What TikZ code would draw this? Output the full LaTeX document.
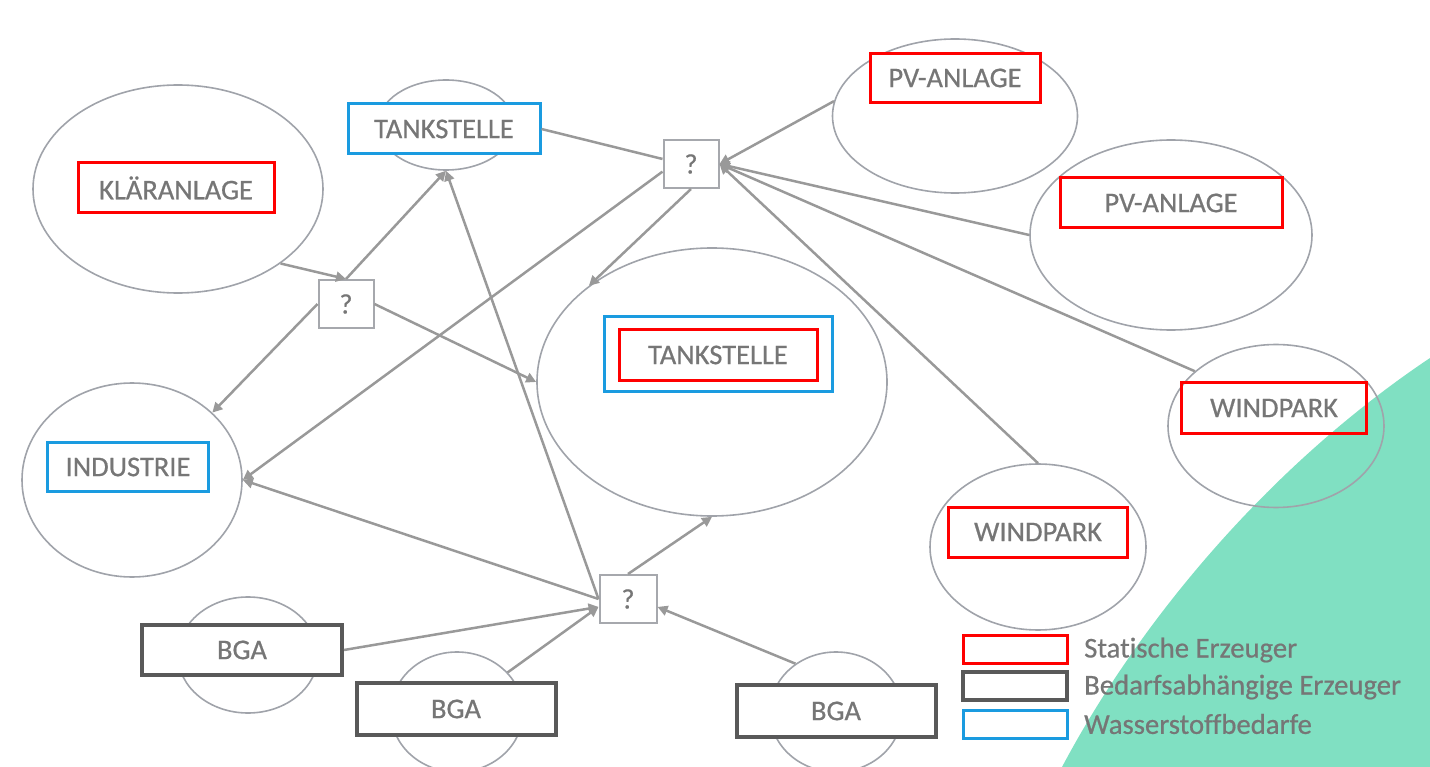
\documentclass[tikz,border=0pt]{standalone}
\usepackage{fontspec}
\setmainfont{Carlito}[Ligatures={NoCommon}, FakeBold=0.6]
\usetikzlibrary{shapes.geometric,arrows.meta}
\definecolor{txtc}{HTML}{767676}
\definecolor{ellc}{HTML}{A0A3AA}
\definecolor{conc}{HTML}{999999}
\definecolor{rdc}{HTML}{FF0000}
\definecolor{blc}{HTML}{1A9BE0}
\definecolor{dkc}{HTML}{595959}
\definecolor{qbc}{HTML}{A6A8AD}
\definecolor{grnc}{HTML}{80E0C2}
\begin{document}
\begin{tikzpicture}[x=1pt,y=-1pt,
 ellnode/.style={draw=ellc, line width=1.6pt, ellipse, inner sep=0pt},
 lbl/.style={rectangle, inner sep=0pt, font=\fontsize{28.5}{30}\selectfont, text=txtc, line width=3pt},
 redbox/.style={lbl, draw=rdc, fill=white},
 bluebox/.style={lbl, draw=blc, fill=white},
 darkbox/.style={lbl, draw=dkc, line width=4pt, fill=white},
 qbox/.style={draw=qbc, line width=2pt, fill=white, minimum width=55pt, minimum height=48pt, font=\fontsize{28}{30}\selectfont, text=txtc, inner sep=0pt},
 conn/.style={draw=conc, line width=2.5pt},
 arr/.style={conn, -{Triangle[length=10pt,width=10pt]}},
 legtxt/.style={anchor=west, inner sep=0pt, font=\fontsize{28.7}{30}\selectfont, text=txtc},
]
\path[use as bounding box] (0,0) rectangle (1430,767);
\fill[grnc] (1062,767) .. controls (1140,620) and (1270,465) .. (1430,358) -- (1430,767) -- cycle;

% ellipses
\node[ellnode, minimum width=290pt, minimum height=208pt] (kl) at (178,189) {};
\node[ellnode, minimum width=136pt, minimum height=90pt] (tt) at (446,125) {};
\node[ellnode, minimum width=245pt, minimum height=154pt] (pv1) at (955,116) {};
\node[ellnode, minimum width=282pt, minimum height=190pt] (pv2) at (1171,235) {};
\node[ellnode, minimum width=350pt, minimum height=268pt] (bt) at (712,382) {};
\node[ellnode, minimum width=216pt, minimum height=163pt] (wr) at (1276,426) {};
\node[ellnode, minimum width=216pt, minimum height=166pt] (wl) at (1038,547) {};
\node[ellnode, minimum width=220pt, minimum height=194pt] (ind) at (132,480) {};
\node[ellnode, minimum width=140pt, minimum height=116pt] (b1e) at (248,655) {};
\node[ellnode, minimum width=132pt, minimum height=120pt] (b2e) at (457,712) {};
\node[ellnode, minimum width=132pt, minimum height=120pt] (b3e) at (836,712) {};

% question boxes
\node[qbox] (q1) at (691,164) {?};
\node[qbox] (q2) at (346,304) {?};
\node[qbox, minimum width=57pt] (q3) at (628,599) {?};

% label boxes
\node[redbox, minimum width=196pt, minimum height=50pt] (klbox) at (176,188) {KLÄRANLAGE};
\node[bluebox, minimum width=192pt, minimum height=50pt] (tbox) at (444,129) {TANKSTELLE};
\node[redbox, minimum width=170pt, minimum height=49pt] (pv1box) at (955,78) {PV-ANLAGE};
\node[redbox, minimum width=222pt, minimum height=50pt] (pv2box) at (1171,203) {PV-ANLAGE};
\node[bluebox, minimum width=228pt, minimum height=74pt] (btout) at (718,354) {};
\node[redbox, minimum width=198pt, minimum height=50pt] (btbox) at (718,355) {TANKSTELLE};
\node[lbl, draw=rdc, minimum width=185pt, minimum height=51pt] (wrbox) at (1274,408) {WINDPARK};
\node[redbox, minimum width=179pt, minimum height=50pt] (wlbox) at (1038,532) {WINDPARK};
\node[bluebox, minimum width=161pt, minimum height=49pt] (indbox) at (128,467) {INDUSTRIE};
\node[darkbox, minimum width=200pt, minimum height=50pt] (b1box) at (242,650) {BGA};
\node[darkbox, minimum width=199pt, minimum height=52pt] (b2box) at (456,709) {BGA};
\node[darkbox, minimum width=199pt, minimum height=52pt] (b3box) at (836,711) {BGA};

% connectors
\draw[arr] (kl.-36) -- (q2.north);
\draw[arr] (q2.north) -- (tt.south);
\draw[arr] (q2.west) -- (ind.40);
\draw[arr] (q2.east) -- (bt.west);
\draw[conn] (tbox.east) -- (q1.170);
\draw[arr] (q1.195) -- (ind.east);
\draw[arr] (q1.south) -- (bt.142);
\draw[arr] (pv1.173) -- (q1.east);
\draw[arr] (pv2.west) -- (q1.east);
\draw[arr] (wr.146) -- (q1.east);
\draw[arr] (wl.north) -- (q1.east);
\draw[arr] (q3.north) -- (bt.south);
\draw[arr] (b3e.130) -- (q3.-15);
\draw[arr] (b1box.east) -- (q3.195);
\draw[arr] (b2e.38) -- (q3.195);
\draw[arr] (q3.west) -- (ind.east);
\draw[arr] (q3.west) -- (tt.south);

% legend
\node[lbl, draw=rdc, minimum width=104pt, minimum height=28pt] (lg1) at (1015,649) {};
\node[lbl, draw=dkc, line width=4pt, minimum width=104pt, minimum height=28pt] (lg2) at (1015,686) {};
\node[lbl, draw=blc, minimum width=104pt, minimum height=28pt] (lg3) at (1015,724) {};
\node[legtxt] (lt1) at (1084,650) {Statische Erzeuger};
\node[legtxt] (lt2) at (1084,687) {Bedarfsabhängige Erzeuger};
\node[legtxt] (lt3) at (1084,724) {Wasserstoffbedarfe};
\end{tikzpicture}
\end{document}
